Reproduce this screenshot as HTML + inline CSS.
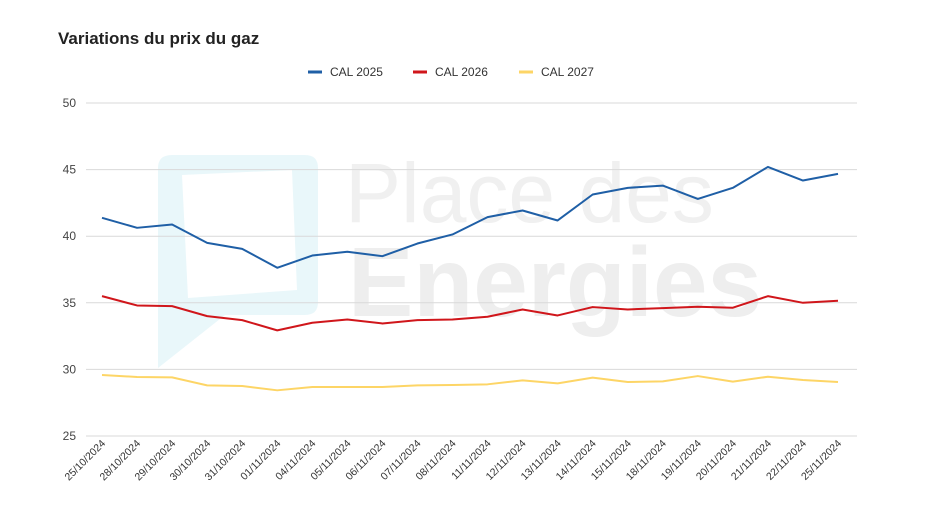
<!DOCTYPE html>
<html><head><meta charset="utf-8"><style>
body{margin:0;background:#fff;font-family:"Liberation Sans",Arial,sans-serif}
svg{display:block}
</style></head><body>
<svg id="chart" width="936" height="526" viewBox="0 0 936 526">
<rect width="936" height="526" fill="#fff"/>
<g>
<path d="M172,155 L305,155 Q318,155 318,168 L318,302 Q318,315 305,315 L225,315 L158,368 L158,168 Q158,155 172,155 Z" fill="#e3f5f9" opacity="0.8"/>
<path d="M182,175 L292,170 L297,290 L188,298 Z" fill="#fff"/>
<text x="345" y="222" font-size="84" fill="#f0f0f0" font-weight="300">Place des</text>
<text x="348" y="316" font-size="98" fill="#eeeeee" font-weight="bold">Energies</text>
</g>
<text x="58" y="44" font-size="17" font-weight="bold" fill="#222">Variations du prix du gaz</text>
<g id="legend"></g>
<g id="grid"></g>
<g id="series"></g>
<g id="xlabels"></g>
</svg>
<script>
const categories=["25/10/2024","28/10/2024","29/10/2024","30/10/2024","31/10/2024","01/11/2024","04/11/2024","05/11/2024","06/11/2024","07/11/2024","08/11/2024","11/11/2024","12/11/2024","13/11/2024","14/11/2024","15/11/2024","18/11/2024","19/11/2024","20/11/2024","21/11/2024","22/11/2024","25/11/2024"];
const cal2025=[41.38,40.63,40.88,39.5,39.05,37.63,38.55,38.83,38.5,39.45,40.13,41.43,41.93,41.18,43.13,43.63,43.8,42.8,43.63,45.2,44.18,44.68];
const cal2026=[35.5,34.8,34.75,34.0,33.7,32.93,33.5,33.75,33.45,33.7,33.75,33.95,34.5,34.05,34.68,34.5,34.6,34.7,34.63,35.5,35.0,35.15];
const cal2027=[29.58,29.43,29.4,28.8,28.75,28.43,28.68,28.68,28.68,28.8,28.83,28.88,29.18,28.95,29.38,29.05,29.1,29.5,29.08,29.45,29.2,29.05];
const yTicks=[25,30,35,40,45,50];
const seriesNames=["CAL 2025","CAL 2026","CAL 2027"];
const seriesColors=["#1f5fa6","#d0161b","#fdd566"];
const NS="http://www.w3.org/2000/svg";
const x0=86,x1=857,y0=436,y1=103;
const xs=i=>102+i*(838-102)/(categories.length-1);
const ys=v=>y0-(v-25)/(50-25)*(y0-y1);
function mk(t,a,p){const e=document.createElementNS(NS,t);for(const k in a)e.setAttribute(k,a[k]);p.appendChild(e);return e;}
const grid=document.getElementById('grid');
yTicks.forEach(t=>{
 const l=mk('line',{x1:x0,x2:x1,y1:ys(t),y2:ys(t),stroke:'#d9d9d9','stroke-width':1},grid);
 
 
 const tx=mk('text',{x:76,y:ys(t)+4,'text-anchor':'end','font-size':12,fill:'#444'},grid);
 tx.textContent=t;
 
 
});
const xl=document.getElementById('xlabels');
categories.forEach((c,i)=>{
 const x=xs(i)+4,y=444;
 const t=mk('text',{x:x,y:y,'text-anchor':'end','font-size':10.5,fill:'#333',transform:`rotate(-45 ${x} ${y})`},xl);
 t.textContent=c;
 
 
});
const sg=document.getElementById('series');
[cal2025,cal2026,cal2027].forEach((arr,s)=>{
 const p=mk('polyline',{points:arr.map((v,i)=>xs(i)+','+ys(v)).join(' '),fill:'none',stroke:seriesColors[s],'stroke-width':2,'stroke-linejoin':'round'},sg);
 
 
});
const lg=document.getElementById('legend');
const lx=[308,413,519];
seriesNames.forEach((n,s)=>{
 const g=mk('g',{},lg);
 
 
 mk('line',{x1:lx[s],x2:lx[s]+14,y1:72,y2:72,stroke:seriesColors[s],'stroke-width':3},g);
 const t=mk('text',{x:lx[s]+22,y:76,'font-size':12,fill:'#333'},g);
 t.textContent=n;
});
</script>
</body></html>
